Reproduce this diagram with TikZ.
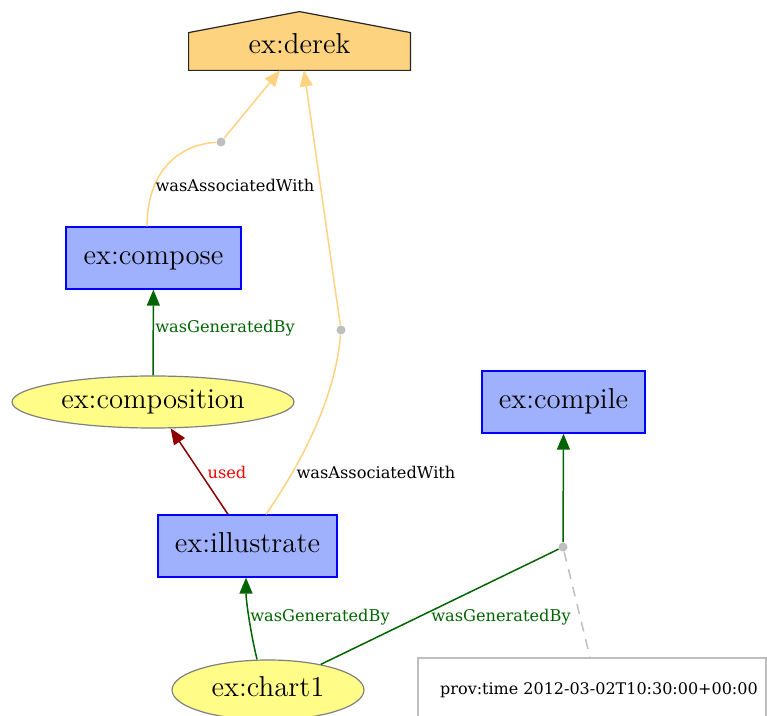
\documentclass[tikz,border=0pt]{standalone}
\usepackage{fontspec}
\newfontfamily\labelfont{DejaVu Serif}
\usetikzlibrary{arrows.meta,shapes.geometric,backgrounds}
\definecolor{agentfill}{HTML}{FED37F}
\definecolor{actfill}{HTML}{9FB1FC}
\definecolor{actline}{HTML}{0000FF}
\definecolor{entfill}{HTML}{FFFC87}
\definecolor{entline}{HTML}{808080}
\definecolor{assoccol}{HTML}{FED37F}
\definecolor{gencol}{HTML}{006400}
\definecolor{usedcol}{HTML}{8B0000}
\definecolor{usedtext}{HTML}{FF0000}
\definecolor{dotcol}{HTML}{BEBEBE}
\begin{document}
\begin{tikzpicture}[x=0.5pt,y=-0.5pt,
  nodetext/.style={font=\fontsize{14.4}{16}\selectfont, inner sep=0pt, text height=6.2pt, text depth=0pt},
  activity/.style={nodetext, rectangle, draw=actline, fill=actfill, line width=0.7pt},
  entity/.style={nodetext, ellipse, draw=entline, fill=entfill, line width=0.6pt},
  agent/.style={nodetext, rectangle},
  pointdot/.style={circle, fill=dotcol, inner sep=0pt, minimum size=4.5pt},
  edgelabel/.style={font=\labelfont\fontsize{8.1}{9}\selectfont, inner sep=0pt},
  tip/.style={-{Triangle[length=8pt,width=6.5pt]}},
  assoc/.style={draw=assoccol, line width=0.75pt},
  genby/.style={draw=gencol, line width=0.75pt},
  usededge/.style={draw=usedcol, line width=0.75pt},
  annolink/.style={draw=dotcol, line width=0.75pt, dash pattern=on 5pt off 4pt},
  annobox/.style={rectangle, draw=dotcol, line width=0.6pt, fill=white}
]
\useasboundingbox (0,0) rectangle (767,716);
\clip (0,0) rectangle (767,716);

% agent with house outline
\node[agent, text depth=4.5pt, minimum width=110.5pt, minimum height=18.5pt] (derek) at (299.5,51.5) {ex:derek};
\begin{scope}[on background layer]
  \draw[fill=agentfill, draw=black!85, line width=0.6pt]
    (derek.south west) -- (derek.north west) -- ([yshift=10.5pt]derek.north)
    -- (derek.north east) -- (derek.south east) -- cycle;
\end{scope}

% activities
\node[activity, minimum width=87.5pt, minimum height=31pt] (compose) at (153.5,258) {ex:compose};
\node[activity, minimum width=89.5pt, minimum height=31pt] (illustrate) at (247.5,546) {ex:illustrate};
\node[activity, minimum width=81.5pt, minimum height=31pt] (compile) at (563.5,402) {ex:compile};

% entities
\node[entity, minimum width=141pt, minimum height=26pt] (composition) at (153,402) {ex:composition};
\node[entity, minimum width=96pt, minimum height=30pt] (chart1) at (268,690) {ex:chart1};

% junction points
\node[pointdot] (dot1) at (221,142) {};
\node[pointdot] (dot2) at (341,330) {};
\node[pointdot] (dot3) at (563,547) {};

% annotation
\node[annobox, minimum width=174pt, minimum height=33pt] (anno) at (592,691) {};
\node[font=\labelfont\fontsize{8}{9}\selectfont, inner sep=0pt] (annotext) at (599,690)
  {prov:time 2012-03-02T10:30:00+00:00};

% wasAssociatedWith edges
\draw[assoc] ([xshift=-3.25pt]compose.north) .. controls (147,175) and (175,145) .. (dot1);
\draw[assoc, tip] (dot1) -- ([xshift=-9.75pt]derek.south);
\draw[assoc] ([xshift=9.25pt]illustrate.north) .. controls (300,465) and (335,400) .. (dot2);
\draw[assoc, tip] (dot2) -- ([xshift=2.25pt]derek.south);

% wasGeneratedBy edges
\draw[genby, tip] (composition) -- (compose);
\draw[genby, tip] ([xshift=-5.5pt]chart1.north) .. controls (250,630) and (246,600) .. ([xshift=-0.75pt]illustrate.south);
\draw[genby] (chart1) -- (dot3);
\draw[genby, tip] (dot3) -- (compile.south);

% used edge
\draw[usededge, tip] ([xshift=-9.75pt]illustrate.north) -- (composition);

% annotation link
\draw[annolink] (dot3) -- ([xshift=-1pt]anno.north);

% edge labels
\node[edgelabel] (lab1) at (235,185) {wasAssociatedWith};
\node[edgelabel, text=gencol] (lab2) at (225,328) {wasGeneratedBy};
\node[edgelabel, text=usedtext] (lab3) at (227,472) {used};
\node[edgelabel] (lab4) at (376,472) {wasAssociatedWith};
\node[edgelabel, text=gencol] (lab5) at (320,617) {wasGeneratedBy};
\node[edgelabel, text=gencol] (lab6) at (501,617) {wasGeneratedBy};
\end{tikzpicture}
\end{document}
